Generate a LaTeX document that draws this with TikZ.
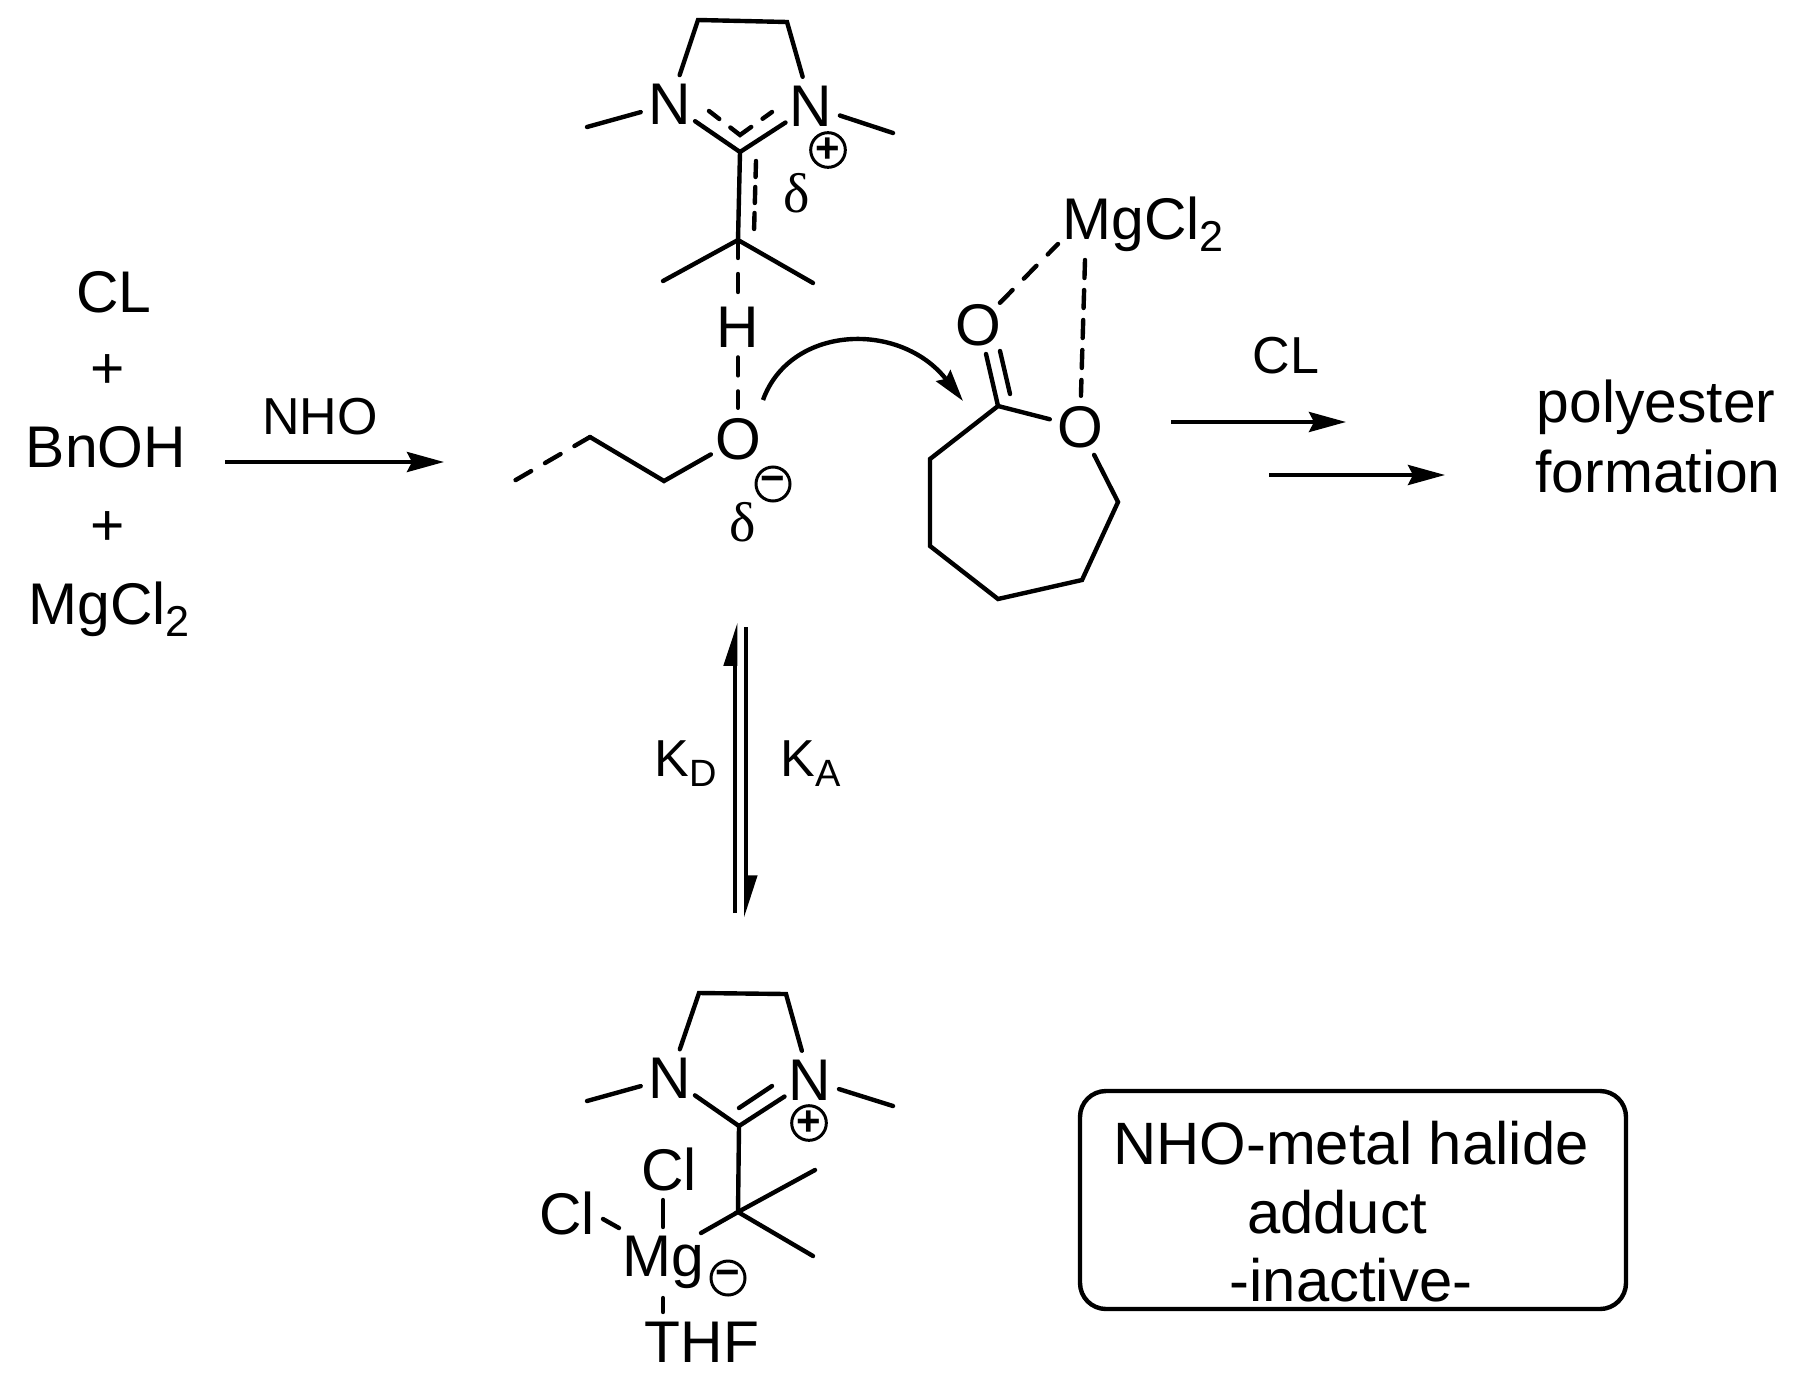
\documentclass[tikz,border=0pt]{standalone}
\usepackage{fontspec}
\setmainfont{Liberation Sans}
\newfontfamily\grk{Liberation Serif}
\usetikzlibrary{arrows.meta}
\newcommand{\lowsub}[1]{\raisebox{-6pt}{\fontsize{21.6}{22}\selectfont #1}}
\newcommand{\lowsubs}[1]{\raisebox{-5pt}{\fontsize{19}{20}\selectfont #1}}
\tikzset{
  x=0.5pt,y=-0.5pt,
  bond/.style={line width=2.2pt,line cap=round,line join=miter},
  dbond/.style={bond,dash pattern=on 9pt off 8pt},
  sdbond/.style={bond,dash pattern=on 8pt off 5pt},
  lbl/.style={inner sep=0pt,text height=20.8pt,text depth=0pt,font=\fontsize{29.4}{34}\selectfont},
  slbl/.style={inner sep=0pt,text height=18.6pt,text depth=0pt,font=\fontsize{26}{30}\selectfont},
  atom/.style={lbl,circle,minimum size=30pt},
  charge/.style={circle,draw,line width=1.5pt,minimum size=17pt,inner sep=0pt,font=\bfseries\fontsize{21}{21}\selectfont},
  deltasym/.style={inner sep=0pt,font=\grk\fontsize{28}{30}\selectfont},
  rxn/.style={line width=2pt,-{Stealth[length=18.5pt,width=10pt,inset=2.5pt]}},
}
\begin{document}
\begin{tikzpicture}
\useasboundingbox (0,0) rectangle (1808,1386);
% left column
\node[lbl] (cl) at (114,292) {CL};
\node[lbl] (p1) at (108,368) {+};
\node[lbl] (bnoh) at (106,447) {BnOH};
\node[lbl] (p2) at (108,525) {+};
\node[lbl] (mgcl) at (109,604) {MgCl\lowsub{2}};
\node[slbl] (nho) at (320,416) {NHO};
\coordinate (a1s) at (225,462); \coordinate (a1e) at (444,462);
\draw[rxn] (a1s) -- (a1e);
% top imidazolinium
\node[atom] (n1) at (670,104) {N};
\node[atom] (n2) at (811,106) {N};
\coordinate (ch1) at (698,20); \coordinate (ch2) at (787,22);
\coordinate (me1) at (587,127); \coordinate (me2) at (893,133);
\coordinate (c1) at (740,152);
\coordinate (c2) at (738,240);
\coordinate (me3) at (663,281); \coordinate (me4) at (813,283);
\draw[bond] (n1) -- (ch1) -- (ch2) -- (n2);
\draw[bond] (n1) -- (me1);
\draw[bond] (n2) -- (me2);
\draw[bond] (n1) -- (c1) -- (n2);
\coordinate (ia) at (709,111); \coordinate (ib) at (740,135); \coordinate (ic) at (772,112);
\draw[bond,dash pattern=on 6.5pt off 7pt on 13pt off 7pt] (ia) -- (ib) -- (ic);
\draw[bond] (c1) -- (c2);
\coordinate (da) at (756,161); \coordinate (db) at (754,232);
\draw[sdbond] (da) -- (db);
\draw[bond] (me3) -- (c2) -- (me4);
\node[charge] (qp1) at (828,150) {\raisebox{-1pt}{+}};
\node[deltasym] (d1) at (797,193) {δ};
% H and alkoxide
\node[atom] (h) at (738,327) {H};
\node[atom] (o1) at (738,439) {O};
\draw[dbond] (c2) -- (h);
\draw[dbond] (h) -- (o1);
\coordinate (ch3) at (664,481); \coordinate (ch4) at (590,437); \coordinate (chend) at (514,481);
\draw[bond] (o1) -- (ch3) -- (ch4);
\draw[dbond] (ch4) -- (chend);
\node[charge] (qm1) at (773,484) {−};
\node[deltasym] (d2) at (743,522) {δ};
% curved arrow
\coordinate (cs) at (763,400); \coordinate (ce) at (963,401);
\draw[line width=2.2pt,-{Stealth[length=16pt,width=9pt,inset=2pt]}] (cs) .. controls (790,325) and (900,320) .. (ce);
% caprolactone
\node[atom] (oc) at (978,325) {O};
\node[atom] (or) at (1080,427) {O};
\coordinate (r1) at (998,406);
\coordinate (r2) at (1118,502);
\coordinate (r3) at (1082,580);
\coordinate (r4) at (998,599);
\coordinate (r5) at (930,546);
\coordinate (r6) at (930,459);
\draw[bond] (or) -- (r1) -- (r6) -- (r5) -- (r4) -- (r3) -- (r2) -- (or);
\coordinate (co1) at (986,354);
\coordinate (co2a) at (1010,394); \coordinate (co2b) at (1000,351);
\draw[bond] (r1) -- (co1);
\draw[bond] (co2a) -- (co2b);
\node[lbl,anchor=west] (mgt) at (1062,219) {MgCl\lowsub{2}};
\coordinate (mg1) at (1058,244); \coordinate (mg2) at (1085,260);
\draw[dbond] (oc) -- (mg1);
\draw[bond,dash pattern=on 9pt off 6pt] (mg2) -- (or);
% forward arrows
\node[slbl] (cl2) at (1286,355) {CL};
\coordinate (a2s) at (1171,422); \coordinate (a2e) at (1346,422);
\draw[rxn] (a2s) -- (a2e);
\coordinate (a3s) at (1269,475); \coordinate (a3e) at (1445,475);
\draw[rxn] (a3s) -- (a3e);
\node[lbl] (poly) at (1656,402) {polyester};
\node[lbl] (form) at (1658,472) {formation};
% equilibrium
\coordinate (e1s) at (735,913); \coordinate (e1e) at (735,622);
\coordinate (e2s) at (746,627); \coordinate (e2e) at (746,918);
\draw[line width=2.4pt,-{Stealth[harpoon,length=18pt,width=11pt,inset=0pt]}] (e1s) -- (e1e);
\draw[line width=2pt,-{Stealth[harpoon,length=18pt,width=11pt,inset=0pt]}] (e2s) -- (e2e);
\node[slbl,anchor=west] (kd) at (654,758) {K\lowsubs{D}};
\node[slbl,anchor=west] (ka) at (780,758) {K\lowsubs{A}};
% bottom adduct
\node[atom] (n3) at (670,1078) {N};
\node[atom] (n4) at (810,1080) {N};
\coordinate (bch1) at (699,993); \coordinate (bch2) at (786,994);
\coordinate (bme1) at (587,1101); \coordinate (bme2) at (893,1106);
\coordinate (bc1) at (739,1126); \coordinate (bc2) at (738,1212);
\coordinate (bme3) at (815,1170); \coordinate (bme4) at (813,1256);
\draw[bond] (n3) -- (bch1) -- (bch2) -- (n4);
\draw[bond] (n3) -- (bme1);
\draw[bond] (n4) -- (bme2);
\draw[bond] (n3) -- (bc1) -- (n4);
\coordinate (bi1) at (739,1108); \coordinate (bi2) at (772,1086);
\draw[bond] (bi1) -- (bi2);
\draw[bond] (bc1) -- (bc2);
\draw[bond] (bme3) -- (bc2) -- (bme4);
\node[charge] (qp2) at (809,1123) {\raisebox{-1pt}{+}};
\node[lbl] (cl3) at (669,1170) {Cl};
\node[lbl] (cl4) at (567,1214) {Cl};
\node[lbl] (mg) at (663.5,1256) {Mg};
\node[lbl] (thf) at (702,1342) {THF};
\node[charge] (qm2) at (728,1278) {−};
\coordinate (b1) at (701,1233);
\draw[bond] (bc2) -- (b1);
\coordinate (b2a) at (663,1200); \coordinate (b2b) at (663,1227);
\draw[bond] (b2a) -- (b2b);
\coordinate (b3a) at (603,1219); \coordinate (b3b) at (619,1228);
\draw[bond] (b3a) -- (b3b);
\coordinate (b4a) at (663,1298); \coordinate (b4b) at (663,1312);
\draw[bond] (b4a) -- (b4b);
% box
\node[draw,line width=2.2pt,rounded corners=13pt,minimum width=273pt,minimum height=109pt,inner sep=0pt] (box) at (1353,1200) {};
\node[lbl,font=\fontsize{29.9}{34}\selectfont] (t1) at (1351,1144) {NHO-metal halide};
\node[lbl,font=\fontsize{29.9}{34}\selectfont] (t2) at (1337,1213) {adduct};
\node[lbl,font=\fontsize{29.9}{34}\selectfont] (t3) at (1351,1281) {-inactive-};
\end{tikzpicture}
\end{document}
